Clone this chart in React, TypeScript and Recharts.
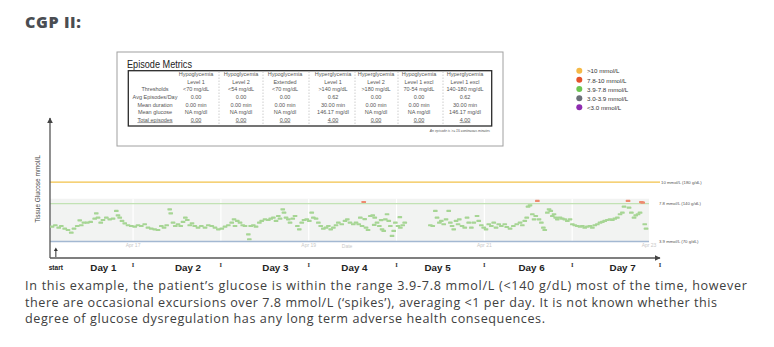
import React from 'react';
import { ScatterChart, Scatter, XAxis, YAxis, ReferenceLine, ReferenceArea, ReferenceDot } from 'recharts';

// ---------- DATA ----------
// CGM readings: [hours since start, glucose mmol/L]
const readingsDay1and2: [number, number][] = [
  [1.85, 5.42], [2.75, 5.57], [3.68, 5.32], [4.39, 5.49], [5.32, 5.22], [6.22, 5.08], [7.12, 4.8], [7.86, 5.22],
  [8.76, 5.49], [9.42, 6.08], [9.85, 5.57], [10.59, 5.83], [11.49, 5.83], [12.42, 5.91], [13.52, 6.24], [13.95, 6.8],
  [14.42, 6.35], [15.16, 5.83], [15.78, 6.11], [16.69, 6.35], [17.62, 6.18], [18.52, 6.24], [19.42, 7.04], [19.88, 6.59],
  [20.35, 6.35], [20.98, 6.01], [21.72, 5.77], [22.62, 5.57], [23.52, 5.49], [24.45, 5.42], [25.35, 5.57], [26.25, 5.49],
  [27.18, 5.67], [28.08, 5.32], [28.99, 5.22], [29.91, 5.15], [30.82, 5.08], [31.72, 5.49], [32.46, 5.32], [33.19, 5.57],
  [34.01, 7.21], [34.29, 6.8], [34.92, 5.83], [35.54, 5.49], [36.28, 5.67], [37.02, 5.49], [37.65, 5.91], [38.28, 6.35],
  [38.82, 6.11], [39.48, 5.57], [40.11, 5.77], [40.85, 5.49], [41.75, 5.32], [42.65, 5.49],
];
const readingsDay2and3: [number, number][] = [
  [43.66, 5.32], [44.56, 5.57], [45.49, 5.49], [46.39, 5.32], [47.3, 5.15], [48.23, 5.22], [49.13, 5.42], [50.03, 5.57],
  [50.96, 5.83], [51.59, 6.18], [51.86, 5.49], [52.49, 6.01], [53.23, 5.83], [53.97, 5.57], [54.59, 5.49], [55.5, 4.64],
  [55.77, 4.13], [56.15, 5.49], [56.86, 5.57], [57.6, 5.42], [58.5, 5.83], [59.16, 6.01], [60.06, 6.18], [60.96, 6.11],
  [61.62, 6.24], [62.33, 6.35], [63.07, 6.01], [63.69, 6.52], [64.16, 6.24], [64.9, 7.21], [65.25, 6.86], [65.8, 6.35],
  [66.43, 6.18], [66.89, 5.83], [67.63, 6.24], [68.26, 6.52], [68.89, 5.49], [69.43, 5.15], [70.09, 5.83], [70.72, 6.11],
  [71.46, 6.18], [72.17, 6.01], [72.82, 6.86], [73.26, 6.35], [74.0, 6.24], [74.63, 5.83], [75.28, 5.49], [75.99, 5.22],
  [76.73, 5.32], [77.36, 5.49], [78.01, 5.15], [78.73, 5.32], [79.46, 5.57], [80.09, 5.83], [81.02, 5.67], [81.92, 6.01],
  [82.55, 6.18], [83.29, 5.83], [84.19, 5.67],
];
const readingsDay4: [number, number][] = [
  [84.93, 5.83], [85.67, 5.67], [86.1, 6.35], [86.57, 5.49], [87.3, 6.2], [87.66, 5.32], [88.21, 5.08], [88.84, 6.52],
  [89.49, 6.59], [89.9, 5.6], [90.04, 6.35], [90.67, 5.83], [91.3, 5.49], [91.8, 6.1], [92.04, 5.15], [92.5, 4.98],
  [92.94, 6.18], [93.4, 6.7], [93.87, 6.01], [94.3, 5.49], [94.77, 4.47], [95.23, 4.98], [95.67, 5.83], [96.41, 5.49],
  [96.9, 6.4], [97.04, 5.32], [97.69, 5.57], [98.24, 5.83],
];
const readingsDay5: [number, number][] = [
  [105.24, 5.57], [105.89, 5.49], [106.6, 7.04], [107.07, 6.35], [107.7, 5.83], [108.24, 6.01], [108.9, 5.67], [109.53, 6.18],
  [110.26, 7.04], [110.7, 5.83], [111.17, 5.49], [111.63, 5.15], [112.26, 6.01], [112.81, 5.67], [113.16, 6.18], [113.9, 5.49],
  [114.64, 5.32], [115.27, 6.35], [115.73, 5.83], [116.44, 5.32], [117.1, 5.83], [118.0, 6.52], [118.46, 6.01], [119.17, 5.57],
  [119.83, 5.32], [120.46, 5.15], [121.2, 5.67], [121.91, 5.49], [122.56, 5.83], [123.19, 5.32], [123.93, 5.67], [124.64, 5.49],
  [125.57, 5.67],
];
const readingsDay6and7: [number, number][] = [
  [126.12, 5.39], [127.02, 5.22], [127.92, 5.49], [128.85, 5.67], [129.75, 5.83], [130.38, 5.57], [131.04, 6.01], [131.58, 6.35],
  [131.94, 7.48], [132.48, 7.62], [133.11, 6.7], [133.58, 6.18], [134.04, 6.52], [134.94, 6.18], [135.57, 5.83], [136.12, 5.32],
  [136.5, 5.08], [137.21, 6.86], [137.68, 7.21], [138.14, 7.04], [138.58, 6.52], [139.04, 6.7], [139.51, 6.35], [139.94, 6.18],
  [140.68, 6.35], [141.31, 6.24], [141.97, 6.18], [142.68, 6.01], [143.42, 6.18], [144.04, 5.67], [144.7, 5.57], [145.41, 5.49],
  [146.15, 5.42], [146.78, 5.49], [147.43, 5.32], [148.14, 5.42], [148.88, 5.49], [149.51, 5.32], [150.17, 5.57], [150.88, 5.67],
  [151.61, 5.83], [152.24, 5.91], [152.9, 6.01], [153.61, 6.11], [154.35, 6.18], [154.98, 6.11], [155.63, 6.24], [156.34, 6.35],
  [157.08, 6.7], [157.71, 6.86], [158.17, 7.48], [159.54, 7.38], [160.17, 6.86], [160.91, 6.35], [161.37, 6.59], [162.0, 6.7],
  [162.55, 6.86], [163.83, 5.67], [164.19, 5.22],
];
// readings in the 7.8-10 mmol/L range
const highReadings: [number, number][] = [
  [87.03, 7.96], [134.48, 8.07], [159.27, 8.07], [162.9, 7.95], [163.28, 7.9],
];

const dayLabels = ['Day 1', 'Day 2', 'Day 3', 'Day 4', 'Day 5', 'Day 6', 'Day 7'];
const dayLabelHours = [15.9, 39.0, 62.9, 84.5, 107.2, 132.9, 157.8];
const dayEndHours = [24, 48, 72, 96, 120, 144, 168];
const startHour = 2.9;
const xDomain: [number, number] = [1.3, 168];
const yDomain: [number, number] = [2.2, 16.6];
const bandTop = 8.3;
const bandEndHour = 165;

const highLimit = 10;
const targetLimit = 7.8;
const lowLimit = 3.9;
const highLimitLabel = '10 mmol/L (180 g/dL)';
const targetLimitLabel = '7.8 mmol/L (140 g/dL)';
const lowLimitLabel = '3.9 mmol/L (70 g/dL)';

const innerDateHours = [24, 72, 120, 165];
const innerDateLabels = ['Apr 17', 'Apr 19', 'Apr 21', 'Apr 23'];
const innerAxisTitleHour = 82.5;

// Episode metrics table
const metricRowLabels = ['', '', 'Thresholds', 'Avg Episodes/Day', 'Mean duration', 'Mean glucose', 'Total episodes'];
const metricColumns = [
  ['Hypoglycemia', 'Level 1', '<70 mg/dL', '0.00', '0.00 min', 'NA mg/dl', '0.00'],
  ['Hypoglycemia', 'Level 2', '<54 mg/dL', '0.00', '0.00 min', 'NA mg/dl', '0.00'],
  ['Hypoglycemia', 'Extended', '<70 mg/dL', '0.00', '0.00 min', 'NA mg/dl', '0.00'],
  ['Hyperglycemia', 'Level 1', '>140 mg/dL', '0.62', '30.00 min', '146.17 mg/dl', '4.00'],
  ['Hyperglycemia', 'Level 2', '>180 mg/dL', '0.00', '0.00 min', 'NA mg/dl', '0.00'],
  ['Hypoglycemia', 'Level 1 excl', '70-54 mg/dL', '0.00', '0.00 min', 'NA mg/dl', '0.00'],
  ['Hyperglycemia', 'Level 1 excl', '140-180 mg/dL', '0.62', '30.00 min', '146.17 mg/dl', '4.00'],
];
const tableTitle = 'Episode Metrics';
const tableFootnote = 'An episode is >= 15 continuous minutes';

const legendLabels = ['>10 mmol/L', '7.8-10 mmol/L', '3.9-7.8 mmol/L', '3.0-3.9 mmol/L', '<3.0 mmol/L'];
const legendColors = ['#f5b947', '#e5522b', '#6cc551', '#6b7079', '#8e2bb0'];

const pageTitle = 'CGP II:';
const paragraphLines = [
  'In this example, the patient\u2019s glucose is within the range 3.9-7.8 mmol/L (<140 g/dL) most of the time, however',
  'there are occasional excursions over 7.8 mmol/L (\u2018spikes\u2019), averaging <1 per day. It is not known whether this',
  'degree of glucose dysregulation has any long term adverse health consequences.',
];

// ---------- STYLE ----------
const SANS = 'Liberation Sans, Arial, sans-serif';
const BODY = 'Open Sans, sans-serif';
const toPoints = (arr: [number, number][]) => arr.map(([h, g]) => ({ h, g }));
const inRangePoints = toPoints([
  ...readingsDay1and2, ...readingsDay2and3, ...readingsDay4, ...readingsDay5, ...readingsDay6and7,
]);
const highPoints = toPoints(highReadings);

const Dash = (color: string) => (p: any) => (
  <rect x={p.cx - 2.3} y={p.cy - 1.1} width={4.6} height={2.2} rx={0.6} fill={color} />
);

const AxisTick = (props: any) => {
  const { x, y, payload } = props;
  const v = payload.value;
  if (v === startHour) {
    return (
      <g>
        <line x1={x} x2={x} y1={y - 1} y2={y - 8} stroke="#333" strokeWidth={1} />
        <path d={`M${x - 2},${y - 7} L${x},${y - 10.5} L${x + 2},${y - 7} Z`} fill="#333" />
        <text x={x} y={y + 9.5} textAnchor="middle" dominantBaseline="central" fontSize={6.6} fontWeight="bold" fill="#222" fontFamily={SANS}>start</text>
      </g>
    );
  }
  const di = dayLabelHours.indexOf(v);
  if (di >= 0) {
    return (
      <text x={x} y={y + 9.5} textAnchor="middle" dominantBaseline="central" fontSize={9.8} fontWeight="bold" fill="#222" fontFamily={SANS}>
        {dayLabels[di]}
      </text>
    );
  }
  return (
    <text x={x} y={y + 6} textAnchor="middle" dominantBaseline="central" fontSize={6.5} fontWeight="bold" fill="#333" fontFamily="Liberation Serif, serif">I</text>
  );
};

const YLabel = (props: any) => {
  const vb = props.viewBox || { x: 30, y: 118, width: 20, height: 140 };
  const cx = vb.x + 7;
  const cy = vb.y + vb.height / 2 + 1;
  return (
    <text x={cx} y={cy} transform={`rotate(-90 ${cx} ${cy})`} textAnchor="middle" dominantBaseline="central" fontSize={6.5} fill="#444" fontFamily={SANS}>
      Tissue Glucose mmol/L
    </text>
  );
};

const limitLabelStyle = { fontSize: 4.3, fill: '#555', fontFamily: SANS };

const colCenters = [196, 241, 285, 333, 376, 419, 465];
const colDividers = [219, 263, 309, 355, 398, 443];
const rowCenters = [74.2, 81.7, 89.3, 96.9, 104.6, 112.1, 119.5];

export default function App() {
  const xTicks = [startHour, ...dayLabelHours, ...dayEndHours].sort((a, b) => a - b);
  return (
    <div style={{ position: 'absolute', left: 0, top: 0, width: 774, height: 347, background: '#fff', overflow: 'hidden' }}>
      <svg width={0} height={0} style={{ position: 'absolute' }}>
        <defs>
          <marker id="axisArrow" viewBox="0 0 10 10" refX="9" refY="5" markerWidth="6" markerHeight="7" markerUnits="userSpaceOnUse" orient="auto-start-reverse">
            <path d="M0,0 L10,5 L0,10 z" fill="#444" />
          </marker>
        </defs>
      </svg>
      <div style={{ position: 'absolute', left: 0, top: 0 }}>
        <ScatterChart width={774} height={347} margin={{ top: 118, right: 114, bottom: 59, left: 30 }}>
          <XAxis
            type="number" dataKey="h" domain={xDomain} allowDataOverflow ticks={xTicks} interval={0}
            height={30} tickSize={0} tickMargin={0} tickLine={false} tick={<AxisTick />}
            axisLine={{ stroke: '#555', strokeWidth: 1.3, markerEnd: 'url(#axisArrow)' }}
          />
          <YAxis
            type="number" dataKey="g" domain={yDomain} allowDataOverflow width={20} tick={false} tickLine={false}
            axisLine={{ stroke: '#555', strokeWidth: 1.3, markerStart: 'url(#axisArrow)' }}
            label={<YLabel />}
          />
          <ReferenceArea x1={xDomain[0]} x2={bandEndHour} y1={lowLimit} y2={bandTop} fill="#f2f3f2" fillOpacity={1} stroke="none" />
          {innerDateHours.map((h, i) => (
            <ReferenceLine key={'d' + i}
              segment={[{ x: h, y: lowLimit }, { x: h, y: bandTop }]}
              stroke={i < 3 ? '#ffffff' : 'none'} strokeWidth={1.2}
              label={{ value: innerDateLabels[i], position: 'bottom', offset: 1.5, fontSize: 5, fill: '#c8c8c8', fontFamily: SANS }}
            />
          ))}
          {dayEndHours.filter((h) => h < bandEndHour && innerDateHours.indexOf(h) < 0).map((h) => (
            <ReferenceLine key={'g' + h} segment={[{ x: h, y: lowLimit }, { x: h, y: bandTop }]} stroke="#ffffff" strokeWidth={1.2} />
          ))}
          <ReferenceDot x={innerAxisTitleHour} y={lowLimit} r={0} fill="none" stroke="none"
            label={{ value: 'Date', position: 'bottom', offset: 3, fontSize: 5, fill: '#c8c8c8', fontFamily: SANS }} />
          <ReferenceLine y={highLimit} stroke="#f2c24a" strokeWidth={1.4}
            label={{ value: highLimitLabel, position: 'right', offset: 1, ...limitLabelStyle }} />
          <ReferenceLine segment={[{ x: xDomain[0], y: targetLimit }, { x: bandEndHour, y: targetLimit }]} stroke="#c2e2b4" strokeWidth={1.2}
            label={{ value: targetLimitLabel, position: 'right', offset: 10, ...limitLabelStyle }} />
          <ReferenceLine segment={[{ x: xDomain[0], y: lowLimit }, { x: bandEndHour, y: lowLimit }]} stroke="#a3b8d2" strokeWidth={1.5}
            label={{ value: lowLimitLabel, position: 'right', offset: 10, ...limitLabelStyle }} />
          <Scatter data={inRangePoints} isAnimationActive={false} shape={Dash('#a6d594')} />
          <Scatter data={highPoints} isAnimationActive={false} shape={Dash('#ee8a70')} />
        </ScatterChart>
      </div>
      <svg width={774} height={347} style={{ position: 'absolute', left: 0, top: 0, pointerEvents: 'none' }}>
        <text x={25} y={27.8} fontSize={16} fontWeight={800} fill="#4a4d52" fontFamily={BODY} letterSpacing={0.6}>{pageTitle}</text>

        <rect x={117} y={52} width={386} height={94} fill="#fff" stroke="#a0a0a0" strokeWidth={1} />
        <text x={127} y={67.6} fontSize={10} fill="#222" fontFamily={SANS} textLength={65} lengthAdjust="spacingAndGlyphs">{tableTitle}</text>
        <rect x={128.3} y={70.7} width={363.4} height={55.3} fill="none" stroke="#2a2a2a" strokeWidth={1.3} />
        {colDividers.map((x) => (
          <line key={x} x1={x} x2={x} y1={71.5} y2={125.5} stroke="#b8b8b8" strokeWidth={0.7} strokeDasharray="1.5 1.5" />
        ))}
        {metricRowLabels.map((lab, r) => (
          <text key={'rl' + r} x={155} y={rowCenters[r]} textAnchor="middle" dominantBaseline="central" fontSize={5.5} fill="#555" fontFamily={SANS}
            textDecoration={r === 6 ? 'underline' : undefined}>{lab}</text>
        ))}
        {metricColumns.map((col, c) => col.map((val, r) => (
          <text key={c + '-' + r} x={colCenters[c]} y={rowCenters[r]} textAnchor="middle" dominantBaseline="central" fontSize={5.5} fill="#555" fontFamily={SANS}
            textDecoration={r === 6 ? 'underline' : undefined}>{val}</text>
        )))}
        <text x={490} y={130.5} textAnchor="end" dominantBaseline="central" fontSize={3.4} fontStyle="italic" fill="#555" fontFamily={SANS}>{tableFootnote}</text>

        {legendLabels.map((lab, i) => (
          <g key={lab}>
            <circle cx={579.3} cy={70.7 + i * 9.15} r={3} fill={legendColors[i]} />
            <text x={587} y={70.9 + i * 9.15} dominantBaseline="central" fontSize={6.2} fill="#333" fontFamily={SANS}>{lab}</text>
          </g>
        ))}

        {paragraphLines.map((line, i) => (
          <text key={i} x={25} y={290.3 + i * 16.2} fontSize={12.6} fill="#404040" fontFamily={BODY}
            textLength={[722, 692, 520][i]} lengthAdjust="spacing">{line}</text>
        ))}
      </svg>
    </div>
  );
}
